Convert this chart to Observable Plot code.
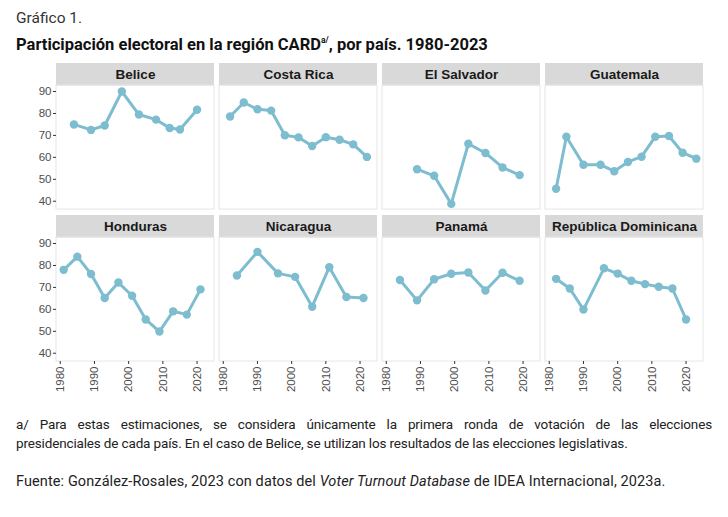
<!DOCTYPE html>
<html>
<head>
<meta charset="utf-8">
<script src="https://cdn.jsdelivr.net/npm/d3@7"></script>
<script src="https://cdn.jsdelivr.net/npm/@observablehq/plot@0.6"></script>
<style>
  html, body { margin: 0; padding: 0; background: #fff; }
  body { width: 728px; height: 517px; position: relative; overflow: hidden; font-family: Roboto, "Noto Sans", sans-serif; color: #1a1a1a; }
  .t1 { position: absolute; left: 16px; top: 9px; font-size: 15.5px; color: #333; }
  .t2 { position: absolute; left: 16px; top: 35px; font-size: 16.5px; font-weight: bold; color: #111; }
  .t2 sup { font-size: 8.5px; vertical-align: 7px; line-height: 0; }
  #chart { position: absolute; left: 0; top: 56px; }
  .note { position: absolute; left: 16px; width: 696px; font-size: 13.5px; line-height: 19px; color: #222; letter-spacing: -0.15px; white-space: nowrap; }
  .n1 { top: 415px; text-align: justify; text-align-last: justify; }
  .n2 { top: 434px; }
  .src { position: absolute; left: 16px; top: 473px; font-size: 14.5px; color: #222; letter-spacing: 0.1px; }
</style>
</head>
<body>
<div class="t1">Gráfico 1.</div>
<div class="t2">Participación electoral en la región CARD<sup>a/</sup>, por país. 1980-2023</div>
<div id="chart"></div>
<div class="note n1" style="white-space: normal;">a/ Para estas estimaciones, se considera únicamente la primera ronda de votación de las elecciones</div>
<div class="note n2">presidenciales de cada país. En el caso de Belice, se utilizan los resultados de las elecciones legislativas.</div>
<div class="src">Fuente: González-Rosales, 2023 con datos del <i>Voter Turnout Database</i> de IDEA Internacional, 2023a.</div>
<script>
// ---- Data ----
const countries = ["Belice", "Costa Rica", "El Salvador", "Guatemala", "Honduras", "Nicaragua", "Panamá", "República Dominicana"];

const beliceYears  = [1984, 1989, 1993, 1998, 2003, 2008, 2012, 2015, 2020];
const beliceValues = [75.0, 72.5, 74.5, 90.0, 79.5, 77.2, 73.4, 72.7, 81.7];

const costaRicaYears  = [1982, 1986, 1990, 1994, 1998, 2002, 2006, 2010, 2014, 2018, 2022];
const costaRicaValues = [78.6, 85.0, 81.9, 81.3, 70.1, 69.1, 65.2, 69.2, 68.0, 65.9, 60.2];

const elSalvadorYears  = [1989, 1994, 1999, 2004, 2009, 2014, 2019];
const elSalvadorValues = [54.6, 51.6, 38.8, 66.2, 62.0, 55.4, 51.9];

const guatemalaYears  = [1982, 1985, 1990, 1995, 1999, 2003, 2007, 2011, 2015, 2019, 2023];
const guatemalaValues = [45.7, 69.4, 56.6, 56.6, 53.7, 57.9, 60.3, 69.4, 69.7, 62.1, 59.4];

const hondurasYears  = [1981, 1985, 1989, 1993, 1997, 2001, 2005, 2009, 2013, 2017, 2021];
const hondurasValues = [78.0, 84.0, 76.1, 65.2, 72.2, 66.2, 55.4, 49.9, 59.1, 57.6, 69.1];

const nicaraguaYears  = [1984, 1990, 1996, 2001, 2006, 2011, 2016, 2021];
const nicaraguaValues = [75.4, 86.2, 76.4, 74.8, 61.2, 79.2, 65.6, 65.2];

const panamaYears  = [1984, 1989, 1994, 1999, 2004, 2009, 2014, 2019];
const panamaValues = [73.4, 64.1, 73.7, 76.2, 76.8, 68.6, 76.7, 73.0];

const rdYears  = [1982, 1986, 1990, 1996, 2000, 2004, 2008, 2012, 2016, 2020];
const rdValues = [73.9, 69.5, 59.9, 78.7, 76.3, 73.0, 71.5, 70.3, 69.5, 55.4];

const yTicks = [40, 50, 60, 70, 80, 90];
const xTicks = [1980, 1990, 2000, 2010, 2020];

// ---- Build table ----
const series = [
  [beliceYears, beliceValues], [costaRicaYears, costaRicaValues],
  [elSalvadorYears, elSalvadorValues], [guatemalaYears, guatemalaValues],
  [hondurasYears, hondurasValues], [nicaraguaYears, nicaraguaValues],
  [panamaYears, panamaValues], [rdYears, rdValues]
];
const rows = [];
countries.forEach((c, i) => {
  const [ys, vs] = series[i];
  ys.forEach((yr, j) => rows.push({country: c, year: yr, value: vs[j], col: i % 4, row: Math.floor(i / 4)}));
});
const panels = countries.map((c, i) => ({country: c, col: i % 4, row: Math.floor(i / 4)}));

// ggplot-like 5% expansion
const xExt = d3.extent(rows, d => d.year), xr = xExt[1] - xExt[0];
const x0 = xExt[0] - 0.05 * xr, x1 = xExt[1] + 0.05 * xr;
const yExt = d3.extent(rows, d => d.value), yr = yExt[1] - yExt[0];
const y0 = yExt[0] - 0.05 * yr, yTop = yExt[1] + 0.05 * yr;
// strip sits above the panel, in the same facet
const stripBottom = yTop + 0.25, stripTop = yTop + 10.2;

const lineColor = "#7dbdcf";

const chart = Plot.plot({
  width: 728,
  height: 344,
  marginLeft: 56,
  marginRight: 25,
  marginTop: 5.7,
  marginBottom: 38.3,
  style: {fontFamily: "'Liberation Sans', Arial, sans-serif", background: "white"},
  fx: {domain: [0, 1, 2, 3], paddingInner: 0.032, paddingOuter: 0, axis: null},
  fy: {domain: [0, 1], paddingInner: 0.038, paddingOuter: 0, axis: null},
  x: {domain: [x0, x1]},
  y: {domain: [y0, stripTop]},
  marks: [
    Plot.rect(panels, {fx: "col", fy: "row", x1: () => x0, x2: () => x1, y1: () => y0, y2: () => yTop, fill: "white", stroke: "#e6e6e6", strokeWidth: 1}),
    Plot.rect(panels, {fx: "col", fy: "row", x1: () => x0, x2: () => x1, y1: () => stripBottom, y2: () => stripTop, fill: "#d9d9d9"}),
    Plot.text(panels, {fx: "col", fy: "row", x: () => (x0 + x1) / 2, y: () => (stripBottom + stripTop) / 2, text: "country", fontWeight: "bold", fontSize: 13.5, fill: "#1a1a1a"}),
    Plot.axisY(yTicks, {ticks: yTicks, tickSize: 3, tickPadding: 2, fontSize: 11.5, color: "#4d4d4d", stroke: "#333", label: null}),
    Plot.axisX(xTicks, {ticks: xTicks, tickFormat: d => String(d), tickSize: 3, tickPadding: 2, tickRotate: -90, fontSize: 11.5, color: "#4d4d4d", stroke: "#333", label: null}),
    Plot.line(rows, {fx: "col", fy: "row", x: "year", y: "value", z: "country", stroke: lineColor, strokeWidth: 3}),
    Plot.dot(rows, {fx: "col", fy: "row", x: "year", y: "value", fill: lineColor, r: 4.2})
  ]
});
document.getElementById("chart").appendChild(chart);
</script>
</body>
</html>
